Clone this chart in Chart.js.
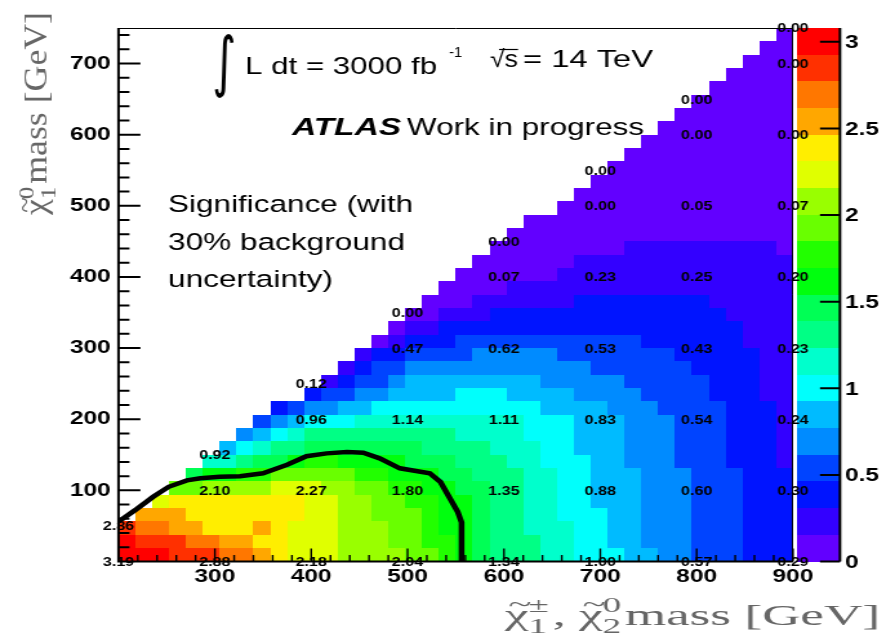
<!DOCTYPE html>
<html>
<head>
<meta charset="utf-8">
<script src="https://cdn.jsdelivr.net/npm/chart.js@4.4.1/dist/chart.umd.min.js"></script>
<style>
  body { margin: 0; background: #fff; }
</style>
</head>
<body>
<canvas id="chart" width="694" height="642" style="width:895px;height:642px"></canvas>
<script>
// binning of the significance map
const massXRange = [200, 900]
const massYRange = [0, 750]
const nBins = 40
const zMax = 3.08
const levelCodes = '0123456789abcdefghij'

// colour level of every cell, top row first (0-9 then a-j = level 0..19).
// rows are right aligned: the blank part above the diagonal is left out
const cellRows = [
  '0',
  '00',
  '000',
  '0000',
  '00000',
  '000000',
  '0000000',
  '00000000',
  '000000000',
  '0000000000',
  '00000000000',
  '000000000000',
  '0000000000000',
  '00000000000000',
  '0000000000000000',
  '00000000000000000',
  '000000001111111110',
  '0000001111111111111',
  '00000011111111111111',
  '000011111111111111111',
  '0001111112222222211111',
  '00111222222222222221111',
  '011222222222222222222111',
  '0122233333333333222222111',
  '12233334444433333332222211',
  '123344444444444333333222211',
  '1233455555555444443333322211',
  '23344555566655554444333322211',
  '2344556666666666555544433332221',
  '34566677777777776665554443332221',
  '456788888888877776665554443332221',
  '5678899999998888777665554443332221',
  '77899abbaaaa99988877666554443332221',
  '9aabbcccccbbaaa998887766555444333222',
  'ccddddeeeddccbbaa99887766555444333222',
  'effffffffeeddccbbaa9887766555444333222',
  'gggfffffffeeddcccbaa9887766655444333222',
  'ihhggfffgfeeedddccbaa9887776655444333222',
  'jiiihhggffeeedddccbba9888776655444333222',
  'jjjiiihhgfeeeddddccba9888776665544333222'
]

// grid points with their printed significance
const pointX = [200, 200, 300, 300, 300, 400, 400, 400, 400, 500, 500, 500, 500, 500,
  600, 600, 600, 600, 600, 600, 700, 700, 700, 700, 700, 700, 700,
  800, 800, 800, 800, 800, 800, 800, 800, 900, 900, 900, 900, 900, 900, 900, 900, 900]
const pointY = [0, 50, 0, 100, 150, 0, 100, 200, 250, 0, 100, 200, 300, 350,
  0, 100, 200, 300, 400, 450, 0, 100, 200, 300, 400, 500, 550,
  0, 100, 200, 300, 400, 500, 600, 650, 0, 100, 200, 300, 400, 500, 600, 700, 750]
const pointSig = [3.19, 2.86, 2.88, 2.10, 0.92, 2.18, 2.27, 0.96, 0.12, 2.04, 1.80, 1.14, 0.47, 0.00,
  1.34, 1.35, 1.11, 0.62, 0.07, 0.00, 1.00, 0.88, 0.83, 0.53, 0.23, 0.00, 0.00,
  0.57, 0.60, 0.54, 0.43, 0.25, 0.05, 0.00, 0.00, 0.29, 0.30, 0.24, 0.23, 0.20, 0.07, 0.00, 0.00, 0.00]

// 95% exclusion contour
const contourX = [200, 217, 236, 252, 271, 285, 305, 326, 350, 375, 395, 416, 437, 454, 471, 492, 523, 534, 552, 556, 556]
const contourY = [56, 72, 91, 105, 114, 117, 119, 120, 124, 136, 148, 152, 154, 153, 145, 131, 124, 112, 70, 55, 0]

const xTickValues = [300, 400, 500, 600, 700, 800, 900]
const yTickValues = [100, 200, 300, 400, 500, 600, 700]
const zTickValues = [0, 0.5, 1, 1.5, 2, 2.5, 3]

const palette = ['#6200ff', '#3300ff', '#0014ff', '#0044ff', '#008bff', '#00bbff', '#00fffc', '#00ffcc',
  '#00ff85', '#00ff55', '#00ff0e', '#22ff00', '#69ff00', '#99ff00', '#e0ff00', '#ffee00',
  '#ffa700', '#ff7700', '#ff3000', '#ff0000']

// the picture is stretched sideways, the canvas is drawn narrow and widened by css
const S = 895 / 694
const sans = '"Liberation Sans", Arial, sans-serif'
const serif = '"Liberation Serif", "Times New Roman", serif'

function fitText(ctx, str, x0, x1, base, font) {
  ctx.font = font
  const w = ctx.measureText(str).width
  ctx.save()
  ctx.translate(x0 / S, base)
  ctx.scale((x1 - x0) / S / w, 1)
  ctx.fillText(str, 0, 0)
  ctx.restore()
}

// text with a tilde accent and stacked super/subscripts, returns its width
function mathText(ctx, parts, size, draw) {
  let pos = 0
  parts.forEach(p => {
    if (typeof p === 'string') {
      ctx.font = `${size}px ${serif}`
      if (draw) ctx.fillText(p, pos, 0)
      pos += ctx.measureText(p).width
    } else if (p.tilde) {
      ctx.font = `${size}px ${serif}`
      const w = ctx.measureText(p.tilde).width
      if (draw) {
        ctx.fillText(p.tilde, pos, 0)
        ctx.font = `${size * 0.8}px ${serif}`
        const tw = ctx.measureText('~').width
        ctx.fillText('~', pos + (w - tw) / 2 + size * 0.06, -size * 0.42)
      }
      pos += w
    } else {
      ctx.font = `${size * 0.7}px ${serif}`
      if (draw) {
        ctx.fillText(p.sup, pos, -size * 0.42)
        ctx.fillText(p.sub, pos, size * 0.28)
      }
      pos += Math.max(ctx.measureText(p.sup).width, ctx.measureText(p.sub).width) + 2
    }
  })
  return pos
}

const heatmap = {
  id: 'heatmap',
  beforeDatasetsDraw(chart) {
    const { ctx, scales: { x, y } } = chart
    const dx = (massXRange[1] - massXRange[0]) / nBins
    const dy = (massYRange[1] - massYRange[0]) / nBins
    ctx.save()
    cellRows.forEach((raw, r) => {
      const row = raw.slice(-nBins).padStart(nBins, '.')
      const j = nBins - 1 - r
      const top = Math.round(y.getPixelForValue(massYRange[0] + (j + 1) * dy))
      const bottom = Math.round(y.getPixelForValue(massYRange[0] + j * dy))
      for (let i = 0; i < nBins; i++) {
        const level = levelCodes.indexOf(row[i])
        if (level < 0) continue
        const left = Math.round(x.getPixelForValue(massXRange[0] + i * dx))
        const right = Math.round(x.getPixelForValue(massXRange[0] + (i + 1) * dx))
        ctx.fillStyle = palette[level]
        ctx.fillRect(left, top, right - left, bottom - top)
      }
    })
    ctx.restore()
  }
}

const decorations = {
  id: 'decorations',
  afterDraw(chart) {
    const { ctx, chartArea: a, scales: { x, y } } = chart
    ctx.save()
    ctx.strokeStyle = '#000'
    ctx.fillStyle = '#000'

    // inward ticks
    ctx.lineWidth = 1.4
    ctx.beginPath()
    for (let v = 220; v <= 900; v += 20) {
      const p = x.getPixelForValue(v)
      ctx.moveTo(p, a.bottom)
      ctx.lineTo(p, a.bottom - (v % 100 ? 6.5 : 13))
    }
    ctx.stroke()
    ctx.lineWidth = 2
    ctx.beginPath()
    for (let v = 20; v < 750; v += 20) {
      const p = y.getPixelForValue(v)
      ctx.moveTo(a.left, p)
      ctx.lineTo(a.left + (v % 100 ? 8.5 : 17), p)
    }
    ctx.stroke()

    // frame
    ctx.lineWidth = 1
    ctx.beginPath()
    ctx.moveTo(a.left, a.top + 0.5)
    ctx.lineTo(a.right, a.top + 0.5)
    ctx.moveTo(a.right - 0.5, a.top)
    ctx.lineTo(a.right - 0.5, a.bottom)
    ctx.stroke()
    ctx.lineWidth = 2
    ctx.beginPath()
    ctx.moveTo(a.left, a.top)
    ctx.lineTo(a.left, a.bottom)
    ctx.lineTo(a.right, a.bottom)
    ctx.stroke()

    // colour scale
    const zPix = v => a.bottom - v / zMax * (a.bottom - a.top)
    const barL = 797 / S
    const barR = 840 / S
    palette.forEach((c, k) => {
      const t = Math.round(zPix((k + 1) * zMax / palette.length))
      const b = Math.round(zPix(k * zMax / palette.length))
      ctx.fillStyle = c
      ctx.fillRect(barL, t, barR - barL, b - t)
    })
    ctx.fillStyle = '#000'
    ctx.lineWidth = 2
    ctx.beginPath()
    ctx.moveTo(barR, a.top)
    ctx.lineTo(barR, a.bottom)
    zTickValues.forEach(v => {
      ctx.moveTo(barR, zPix(v))
      ctx.lineTo(barR - 20 / S, zPix(v))
    })
    ctx.stroke()
    ctx.font = `bold 19px ${sans}`
    ctx.textAlign = 'left'
    ctx.textBaseline = 'middle'
    zTickValues.forEach(v => ctx.fillText(String(v), 845 / S, zPix(v) + 1))

    // values at the grid points
    ctx.font = `bold 12.5px ${sans}`
    ctx.textAlign = 'center'
    pointX.forEach((px, k) => {
      ctx.fillText(pointSig[k].toFixed(2), x.getPixelForValue(px), y.getPixelForValue(pointY[k]) + 1)
    })

    // labels on the plot
    ctx.textAlign = 'left'
    ctx.textBaseline = 'alphabetic'
    fitText(ctx, '\u222B', 212, 236, 84, `66px "DejaVu Sans", sans-serif`)
    fitText(ctx, 'L dt = 3000 fb', 245, 437, 74, `24px ${sans}`)
    fitText(ctx, '-1', 449, 462, 57, `15px ${sans}`)
    fitText(ctx, '\u221As', 490, 518, 67, `24px ${sans}`)
    ctx.lineWidth = 1.2
    ctx.beginPath()
    ctx.moveTo(499 / S, 49.5)
    ctx.lineTo(518 / S, 49.5)
    ctx.stroke()
    fitText(ctx, '= 14 TeV', 523, 653, 67, `24px ${sans}`)
    fitText(ctx, 'ATLAS', 292, 401, 135, `italic bold 24.5px ${sans}`)
    fitText(ctx, 'Work in progress', 407, 644, 135, `24.5px ${sans}`)
    fitText(ctx, 'Significance (with', 168, 413, 212, `24.5px ${sans}`)
    fitText(ctx, '30% background', 168, 405, 250, `24.5px ${sans}`)
    fitText(ctx, 'uncertainty)', 168, 333, 287, `24.5px ${sans}`)

    // axis titles
    ctx.fillStyle = '#666'
    const xTitle = [{ tilde: '\u03C7' }, { sup: '\u00B1', sub: '1' }, ', ', { tilde: '\u03C7' }, { sup: '0', sub: '2' }, 'mass [GeV]']
    const yTitle = [{ tilde: '\u03C7' }, { sup: '0', sub: '1' }, 'mass [GeV]']
    let w = mathText(ctx, xTitle, 30, false)
    ctx.save()
    ctx.translate(505 / S, 625)
    ctx.scale((880 - 505) / S / w, 1)
    mathText(ctx, xTitle, 30, true)
    ctx.restore()
    w = mathText(ctx, yTitle, 25, false)
    ctx.save()
    ctx.translate(47 / S, 215)
    ctx.rotate(-Math.PI / 2)
    ctx.scale(203 / w, 1)
    mathText(ctx, yTitle, 25, true)
    ctx.restore()
    ctx.restore()
  }
}

const chart = document.querySelector('#chart').getContext('2d')

new Chart(chart, {
  type: 'scatter',
  data: {
    datasets: [{
      label: 'contour',
      data: contourX.map((x, i) => ({ x, y: contourY[i] })),
      showLine: true,
      borderColor: '#000',
      borderWidth: 4.5,
      pointRadius: 0,
      fill: false
    }]
  },
  options: {
    responsive: false,
    animation: false,
    events: [],
    layout: { padding: { top: 28, right: 694 - 793 / S, left: 0, bottom: 0 } },
    plugins: { legend: { display: false }, tooltip: { enabled: false } },
    scales: {
      x: {
        type: 'linear',
        min: massXRange[0],
        max: massXRange[1],
        afterBuildTicks: s => { s.ticks = xTickValues.map(v => ({ value: v })) },
        afterFit: s => { s.height = 642 - 561.5 },
        grid: { display: false, drawTicks: false },
        border: { display: false },
        ticks: { color: '#000', padding: 4, maxRotation: 0, autoSkip: false, font: { family: sans, size: 19, weight: 'bold' } }
      },
      y: {
        type: 'linear',
        min: massYRange[0],
        max: massYRange[1],
        afterBuildTicks: s => { s.ticks = yTickValues.map(v => ({ value: v })) },
        afterFit: s => { s.width = 118.5 / S },
        grid: { display: false, drawTicks: false },
        border: { display: false },
        ticks: { color: '#000', padding: 6, autoSkip: false, font: { family: sans, size: 19, weight: 'bold' } }
      }
    }
  },
  plugins: [heatmap, decorations]
})
</script>
</body>
</html>
